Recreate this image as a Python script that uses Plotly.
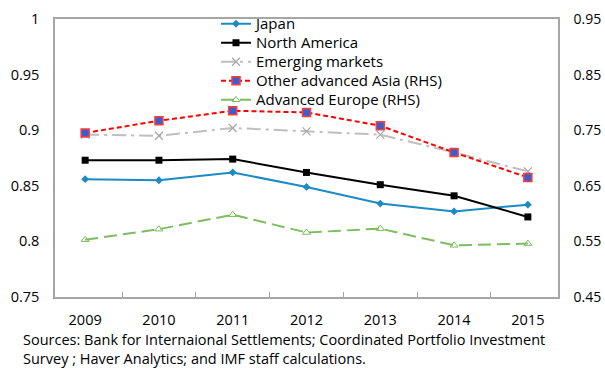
import plotly.graph_objects as go

# Years on the category axis
years = ["2009", "2010", "2011", "2012", "2013", "2014", "2015"]

# Left-hand scale series
japan = [0.856, 0.855, 0.862, 0.849, 0.834, 0.827, 0.833]
north_america = [0.873, 0.873, 0.874, 0.862, 0.851, 0.841, 0.822]
emerging_markets = [0.896, 0.895, 0.902, 0.899, 0.896, 0.880, 0.863]

# Right-hand scale series
other_adv_asia = [0.745, 0.767, 0.785, 0.782, 0.758, 0.710, 0.665]
adv_europe = [0.553, 0.572, 0.598, 0.566, 0.573, 0.543, 0.546]

left_ticks = [0.75, 0.8, 0.85, 0.9, 0.95, 1.0]
left_labels = ["0.75", "0.8", "0.85", "0.9", "0.95", "1"]
right_ticks = [0.45, 0.55, 0.65, 0.75, 0.85, 0.95]
right_labels = ["0.45", "0.55", "0.65", "0.75", "0.85", "0.95"]

FONT = "Open Sans"
AXIS_GRAY = "#a6a6a6"


def legend_label(text):
    # Legend rows are spaced from the small legend font; labels render larger.
    return f'<span style="font-size:15px">{text}</span>'


fig = go.Figure()

fig.add_trace(go.Scatter(
    x=years, y=japan, name=legend_label("Japan"), mode="lines+markers",
    line=dict(color="#1b8bc6", width=2),
    marker=dict(symbol="diamond", size=6, color="#1b8bc6"),
))
fig.add_trace(go.Scatter(
    x=years, y=north_america, name=legend_label("North America"), mode="lines+markers",
    line=dict(color="#000000", width=2),
    marker=dict(symbol="square", size=7, color="#000000"),
))
fig.add_trace(go.Scatter(
    x=years, y=emerging_markets, name=legend_label("Emerging markets"), mode="lines+markers",
    line=dict(color="#bfbfbf", width=2, dash="14px,5px,3px,5px"),
    marker=dict(symbol="x-thin-open", size=8, color="#a6a6a6",
                line=dict(color="#a6a6a6", width=1.2)),
))
fig.add_trace(go.Scatter(
    x=years, y=other_adv_asia, name=legend_label("Other advanced Asia (RHS)"),
    mode="lines+markers", yaxis="y2",
    line=dict(color="#ff0000", width=2, dash="5px,3px"),
    marker=dict(symbol="square", size=8, color="#3a5fcd",
                line=dict(color="#ff3b3b", width=1.5)),
))
fig.add_trace(go.Scatter(
    x=years, y=adv_europe, name=legend_label("Advanced Europe (RHS)"),
    mode="lines+markers", yaxis="y2",
    line=dict(color="#7dbd5f", width=2, dash="13px,6px"),
    marker=dict(symbol="triangle-up-open", size=7, color="#7dbd5f",
                line=dict(color="#7dbd5f", width=1)),
))

fig.update_layout(
    width=605, height=368,
    margin=dict(l=55, r=47, t=19, b=71, autoexpand=False),
    paper_bgcolor="white", plot_bgcolor="white",
    font=dict(family=FONT, size=14.5, color="#000000"),
    showlegend=True,
    legend=dict(
        x=(216 - 55) / 503, xanchor="left",
        y=1.035, yanchor="top",
        bgcolor="rgba(0,0,0,0)",
        font=dict(family=FONT, size=12.2),
        tracegroupgap=0,
    ),
    xaxis=dict(
        type="category",
        showline=True, linecolor=AXIS_GRAY, linewidth=1.5, mirror=True,
        ticks="inside", tickson="boundaries", ticklen=5,
        tickcolor=AXIS_GRAY, tickwidth=1.2,
        showgrid=False, zeroline=False,
        ticklabelstandoff=9,
        tickfont=dict(family=FONT, size=14.5),
    ),
    yaxis=dict(
        range=[0.75, 1.0],
        tickvals=left_ticks, ticktext=left_labels,
        showline=True, linecolor=AXIS_GRAY, linewidth=1.5,
        ticks="", showgrid=False, zeroline=False,
        ticklabelstandoff=11,
        tickfont=dict(family=FONT, size=14.5),
    ),
    yaxis2=dict(
        range=[0.45, 0.95], overlaying="y", side="right",
        tickvals=right_ticks, ticktext=right_labels,
        showline=True, linecolor=AXIS_GRAY, linewidth=1.5,
        ticks="", showgrid=False, zeroline=False,
        ticklabelstandoff=11,
        tickfont=dict(family=FONT, size=14),
    ),
    annotations=[dict(
        text=("Sources: Bank for Internaional Settlements; Coordinated Portfolio Investment"
              "<br>Survey ; Haver Analytics; and IMF staff calculations."),
        xref="paper", yref="paper",
        x=(21 - 55) / 503, y=-0.112,
        xanchor="left", yanchor="top", align="left",
        showarrow=False,
        font=dict(family=FONT, size=14.5),
    )],
)

fig.write_html("out.html")
